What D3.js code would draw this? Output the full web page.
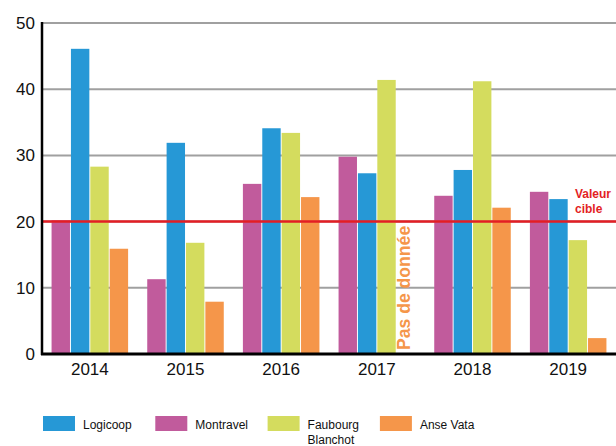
<!DOCTYPE html>
<html>
<head>
<meta charset="utf-8">
<script src="https://cdn.jsdelivr.net/npm/d3@7"></script>
<style>
  html, body { margin: 0; padding: 0; background: #fff; }
  svg { display: block; font-family: "Liberation Sans", Arial, Helvetica, sans-serif; }
</style>
</head>
<body>
<svg id="chart" width="616" height="446"></svg>
<script>
// Years on the x axis
const years = ["2014", "2015", "2016", "2017", "2018", "2019"];
// Series, in the order bars are drawn inside each year group
const seriesNames = ["Montravel", "Logicoop", "Faubourg Blanchot", "Anse Vata"];
const montravel = [20.2, 11.3, 25.7, 29.8, 23.9, 24.5];
const logicoop  = [46.1, 31.9, 34.1, 27.3, 27.8, 23.4];
const faubourg  = [28.3, 16.8, 33.4, 41.4, 41.2, 17.2];
const anseVata  = [15.9, 7.9, 23.7, null, 22.1, 2.4];
// Legend order
const legendNames = ["Logicoop", "Montravel", "Faubourg Blanchot", "Anse Vata"];
const yTicks = [0, 10, 20, 30, 40, 50];
const targetValue = 20;

const colors = {
  "Logicoop": "#2698d6",
  "Montravel": "#c15b9c",
  "Faubourg Blanchot": "#d4dc5e",
  "Anse Vata": "#f5964a"
};
const seriesValues = {
  "Montravel": montravel,
  "Logicoop": logicoop,
  "Faubourg Blanchot": faubourg,
  "Anse Vata": anseVata
};

const svg = d3.select("#chart");
const plotLeft = 42, plotRight = 616, plotTop = 23, plotBottom = 354;

const x0 = d3.scaleBand().domain(years).range([plotLeft, plotRight]).paddingInner(0.2).paddingOuter(0.1);
const x1 = d3.scaleBand().domain(seriesNames).range([0, x0.bandwidth()]).paddingInner(0.05);
const y = d3.scaleLinear().domain([0, 50]).range([plotBottom, plotTop]);

// Horizontal grid lines
svg.append("g")
  .selectAll("line")
  .data(yTicks.filter(t => t > 0))
  .join("line")
  .attr("x1", plotLeft).attr("x2", plotRight)
  .attr("y1", d => y(d)).attr("y2", d => y(d))
  .attr("stroke", "#a0a0a0")
  .attr("stroke-width", 2);

// Bars
const groups = svg.append("g")
  .selectAll("g")
  .data(years)
  .join("g")
  .attr("transform", d => `translate(${x0(d)},0)`);

groups.selectAll("rect")
  .data((yr, i) => seriesNames.map(s => ({ s, v: seriesValues[s][i] })).filter(d => d.v != null))
  .join("rect")
  .attr("x", d => x1(d.s))
  .attr("width", x1.bandwidth())
  .attr("y", d => y(d.v))
  .attr("height", d => y(0) - y(d.v))
  .attr("fill", d => colors[d.s]);

// Note where Anse Vata has no value
years.forEach((yr, i) => {
  if (anseVata[i] == null) {
    const cx = x0(yr) + x1("Anse Vata") + x1.bandwidth() / 2;
    svg.append("text")
      .attr("transform", `translate(${cx + 4},${plotBottom - 4}) rotate(-90)`)
      .attr("fill", "#f5964a")
      .attr("font-weight", "bold")
      .attr("font-size", 17.6)
      .text("Pas de donnée");
  }
});

// Target line
svg.append("line")
  .attr("x1", plotLeft).attr("x2", plotRight)
  .attr("y1", y(targetValue)).attr("y2", y(targetValue))
  .attr("stroke", "#e31e24")
  .attr("stroke-width", 2.5);

svg.append("text")
  .attr("x", 575).attr("y", y(targetValue) - 23.5)
  .attr("fill", "#e31e24")
  .attr("font-weight", "bold")
  .attr("font-size", 12)
  .selectAll("tspan")
  .data(["Valeur", "cible"])
  .join("tspan")
  .attr("x", 575)
  .attr("dy", (d, i) => i === 0 ? 0 : 15)
  .text(d => d);

// Y axis
const yAxis = svg.append("g")
  .attr("transform", `translate(${plotLeft},0)`)
  .call(d3.axisLeft(y).tickValues(yTicks).tickSize(0).tickPadding(7));
yAxis.select(".domain").attr("stroke", "#000").attr("stroke-width", 2.5)
  .attr("d", `M0,${plotTop - 1}V${plotBottom + 1}`);
yAxis.selectAll("text").attr("font-size", 17).attr("fill", "#111")
  .attr("font-family", "'Liberation Sans', Arial, sans-serif");

// X axis
const xAxis = svg.append("g")
  .attr("transform", `translate(0,${plotBottom})`)
  .call(d3.axisBottom(x0).tickSize(0).tickPadding(9));
xAxis.select(".domain").attr("stroke", "#000").attr("stroke-width", 3)
  .attr("d", `M${plotLeft - 1},0H${plotRight}`);
xAxis.selectAll("text").attr("font-size", 17).attr("fill", "#111")
  .attr("font-family", "'Liberation Sans', Arial, sans-serif");

// Legend
const legend = svg.append("g")
  .selectAll("g")
  .data(legendNames)
  .join("g")
  .attr("transform", (d, i) => `translate(${43 + i * 112.3},416)`);

legend.append("rect")
  .attr("width", 32).attr("height", 15)
  .attr("fill", d => colors[d]);

legend.append("text")
  .attr("x", 40).attr("y", 13)
  .attr("font-size", 12)
  .attr("fill", "#111")
  .selectAll("tspan")
  .data(d => d.startsWith("Faubourg") ? d.split(" ") : [d])
  .join("tspan")
  .attr("x", 40)
  .attr("dy", (d, i) => i === 0 ? 0 : 15)
  .text(d => d);
</script>
</body>
</html>
